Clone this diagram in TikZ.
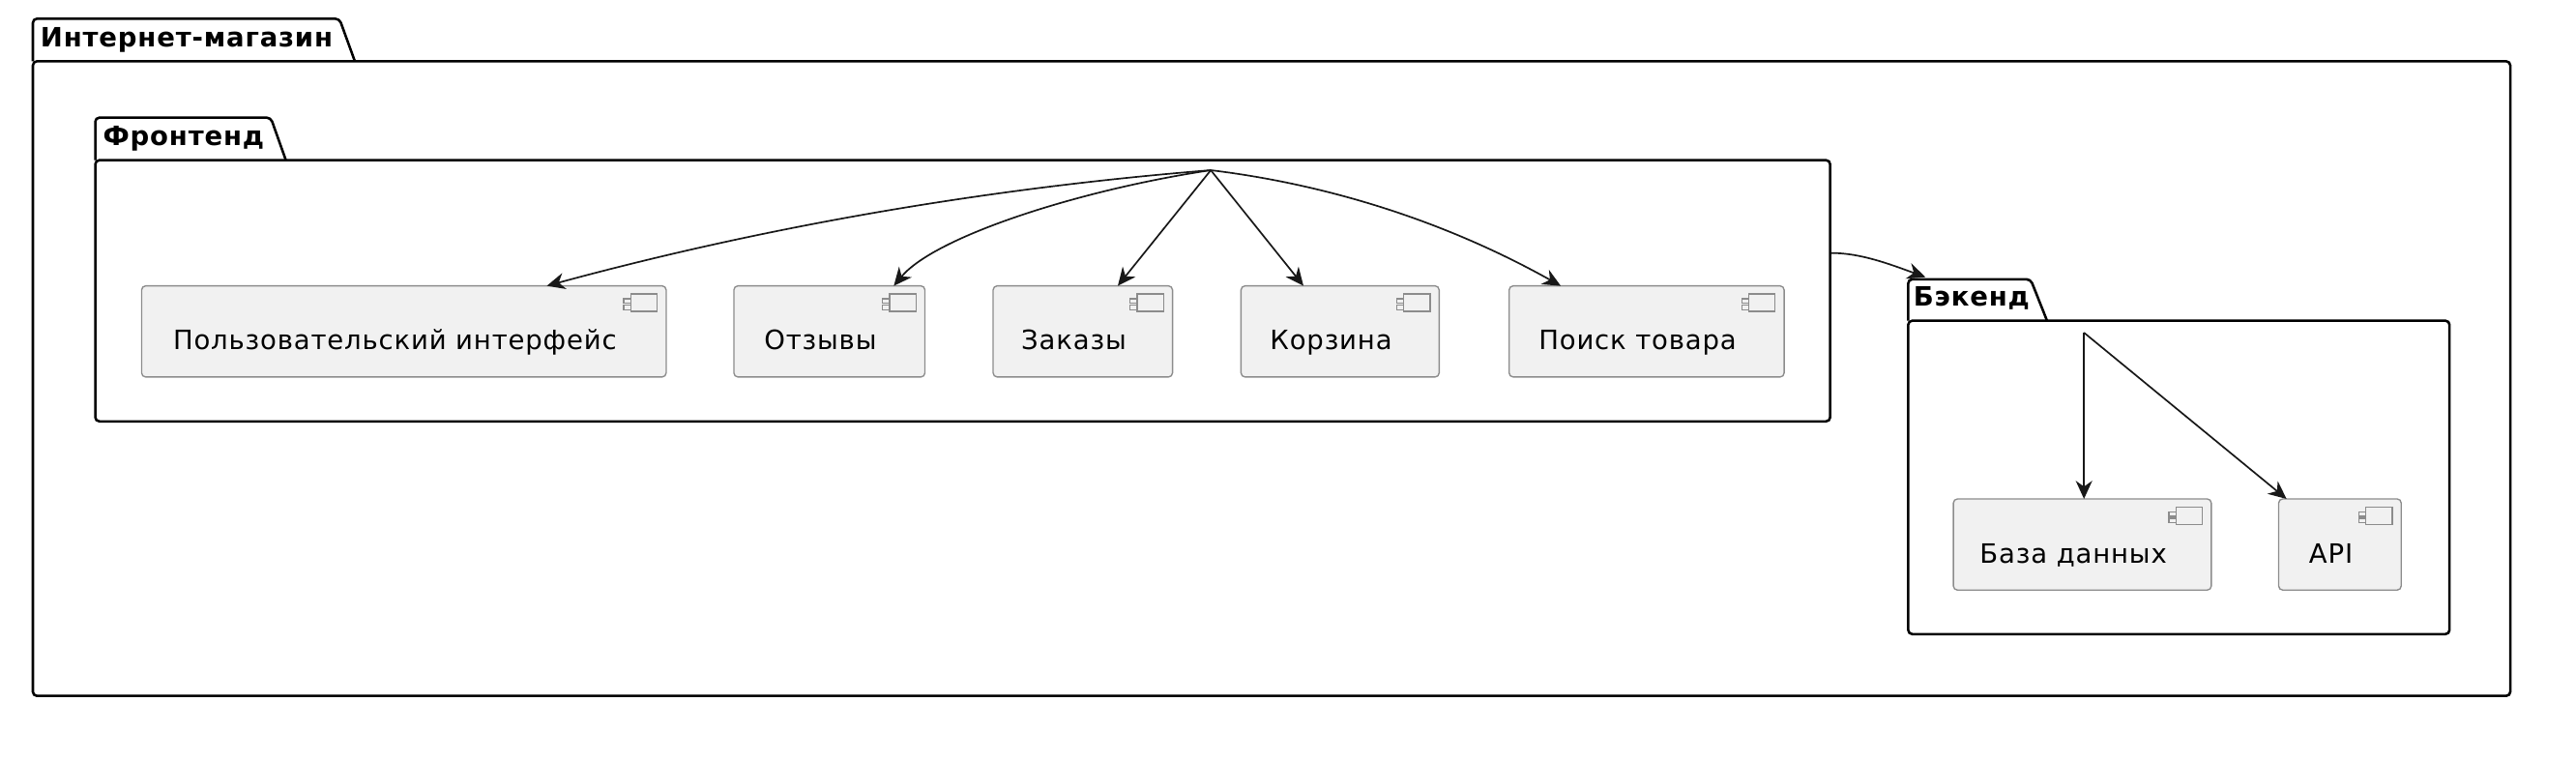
\documentclass[tikz,border=0pt]{standalone}
\usepackage{fontspec}
\setmainfont{DejaVu Sans}[LetterSpace=3]
\usetikzlibrary{arrows.meta,calc}

\definecolor{compfill}{HTML}{F1F1F1}
\definecolor{compline}{HTML}{8C8C8C}
\definecolor{linkline}{HTML}{181818}

\begin{document}
\begin{tikzpicture}[x=1pt, y=-1pt, >={Stealth[length=11pt, width=10pt, inset=3.5pt]}]
\tikzstyle{pkg}=[draw=black, line width=1.5pt, rounded corners=2.5pt, inner sep=0pt, outer sep=0pt, anchor=north west]
\tikzstyle{pkgtab}=[draw=black, line width=1.5pt, rounded corners=2.5pt]
\tikzstyle{pkgtitle}=[font=\bfseries\fontsize{16.2}{18}\selectfont, inner sep=0pt, anchor=base west]
\tikzstyle{comp}=[draw=compline, fill=compfill, line width=0.8pt, rounded corners=2.5pt,
  anchor=north west, minimum height=55.5pt, inner sep=0pt, outer sep=0pt,
  text height=24pt, text depth=1.5pt, font=\fontsize{16.2}{18}\selectfont,
  execute at end node={\hspace*{11pt}},
  path picture={
    \draw[compline, line width=0.8pt, sharp corners] ([shift={(-21.5,5)}]path picture bounding box.north east) rectangle ++(16,10.5);
    \draw[compline, line width=0.8pt, sharp corners, fill=compfill] ([shift={(-25.8,7.8)}]path picture bounding box.north east) rectangle ++(4.3,2.8);
    \draw[compline, line width=0.8pt, sharp corners, fill=compfill] ([shift={(-25.8,11.8)}]path picture bounding box.north east) rectangle ++(4.3,2.8);
  }]
\tikzstyle{link}=[->, draw=linkline, line width=1pt]

\useasboundingbox (0,0) rectangle (1568,462.6);

% packages
\node[pkg, minimum width=1508pt, minimum height=386.3pt] (shop) at (20,37.3) {};
\draw[pkgtab] (shop.north west) -- ++(0,-25.9) -- ++(186.6,0) -- ++(9.4,25.9);
\node[pkgtitle] (shoptitle) at (24.5,28.4) {Интернет-магазин};

\node[pkg, minimum width=1056pt, minimum height=159pt] (front) at (58,97.5) {};
\draw[pkgtab] (front.north west) -- ++(0,-25.9) -- ++(106.8,0) -- ++(9.2,25.9);
\node[pkgtitle] (fronttitle) at (62.5,88.7) {Фронтенд};

\node[pkg, minimum width=329.5pt, minimum height=190.8pt] (back) at (1161.5,195.2) {};
\draw[pkgtab] (back.north west) -- ++(0,-25.2) -- ++(74.5,0) -- ++(10,25.2);
\node[pkgtitle] (backtitle) at (1164.5,186.3) {Бэкенд};

% components
\node[comp, minimum width=319.3pt] (ui)      at (86.2,174)  {Пользовательский интерфейс};
\node[comp, minimum width=116.3pt] (reviews) at (446.7,174) {Отзывы};
\node[comp, minimum width=109.2pt] (orders)  at (604.5,174) {Заказы};
\node[comp, minimum width=120.6pt] (cart)    at (755.4,174) {Корзина};
\node[comp, minimum width=167.4pt] (search)  at (918.6,174) {Поиск товара};

\node[comp, minimum width=157pt]   (db)      at (1189,303.7) {База данных};
\node[comp, minimum width=74.6pt]  (api)     at (1387,303.7) {API};

\coordinate (fronthub) at (737,103.6);
\coordinate (backhub)  at (1268.5,202.5);

% links
\draw[link] (fronthub) .. controls +(-137,11) and +(132.5,-36) .. ([xshift=87pt]ui.north);
\draw[link] (fronthub) .. controls +(-80,12) and +(25,-30) .. ([xshift=39.2pt]reviews.north);
\draw[link] (fronthub) -- ([xshift=21.3pt]orders.north);
\draw[link] (fronthub) -- ([xshift=-22.3pt]cart.north);
\draw[link] (fronthub) .. controls +(75.6,9.2) and +(-66.4,-37.2) .. ([xshift=-52.3pt]search.north);

\draw[link] ($(front.north east)+(0.5,56.5)$) .. controls +(18,0) and +(-22,-8) .. ($(back.north west)+(10.5,-26.5)$);

\draw[link] (backhub) -- (backhub |- db.north);
\draw[link] (backhub) -- ([xshift=-32.5pt]api.north);
\end{tikzpicture}
\end{document}
